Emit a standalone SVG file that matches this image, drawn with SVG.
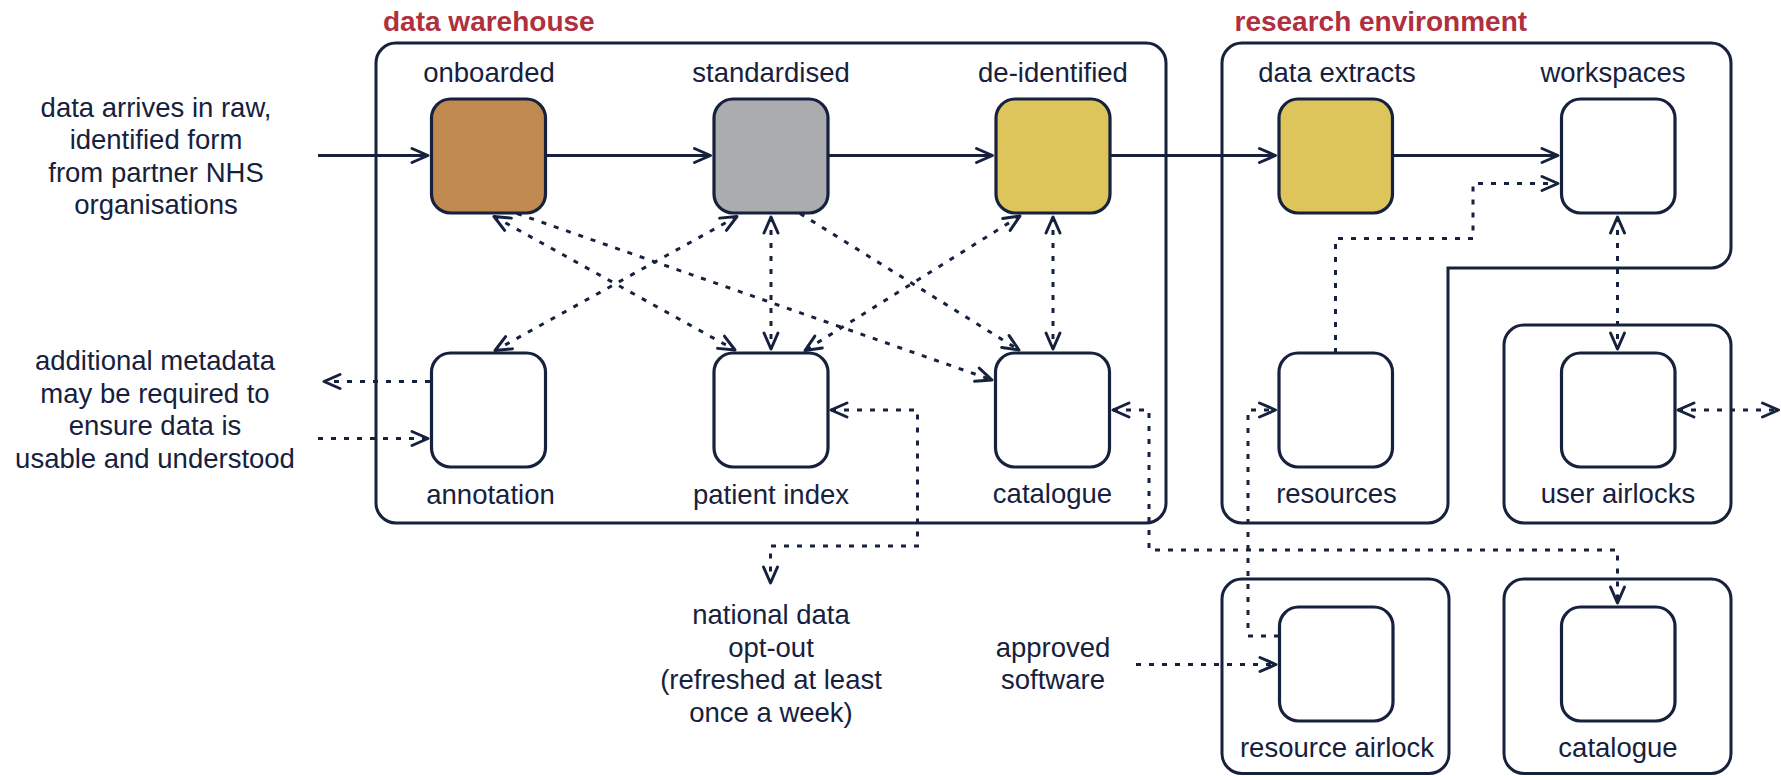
<svg xmlns="http://www.w3.org/2000/svg" width="1781" height="776" viewBox="0 0 1781 776">
  <defs>
    <style>
      .box { fill:#ffffff; stroke:#16213E; stroke-width:3.2; }
      .cont { fill:none; stroke:#16213E; stroke-width:3; }
      .lbl { font-family:"Liberation Sans", Arial, sans-serif; font-size:27.5px; fill:#16213E; text-anchor:middle; }
      .title { font-family:"Liberation Sans", Arial, sans-serif; font-size:28px; font-weight:bold; fill:#B0303E; }
      .solid { fill:none; stroke:#16213E; stroke-width:3; marker-end:url(#arr); }
      .dot { fill:none; stroke:#16213E; stroke-width:3; stroke-dasharray:5 8; }
      .end { marker-end:url(#arr); }
      .both { marker-start:url(#arr); marker-end:url(#arr); }
    </style>
    <marker id="arr" markerUnits="userSpaceOnUse" viewBox="-20 -10 24 20" markerWidth="24" markerHeight="20" refX="0" refY="0" orient="auto-start-reverse">
      <path d="M -16 -7 L 0 0 L -16 7" fill="none" stroke="#16213E" stroke-width="3" stroke-dasharray="none" stroke-linejoin="round" stroke-linecap="round"/>
    </marker>
  </defs>
  <rect x="0" y="0" width="1781" height="776" fill="#ffffff"/>

  <!-- containers -->
  <g id="data-warehouse">
    <rect class="cont" x="376" y="43" width="790" height="480" rx="20"/>
    <text class="title" x="383" y="30.5">data warehouse</text>
  </g>
  <g id="research-environment">
    <path class="cont" d="M1242,43 H1711 A20,20 0 0 1 1731,63 V248 A20,20 0 0 1 1711,268 H1448 V503 A20,20 0 0 1 1428,523 H1242 A20,20 0 0 1 1222,503 V63 A20,20 0 0 1 1242,43 Z"/>
    <text class="title" x="1234.5" y="30.5">research environment</text>
  </g>
  <g id="user-airlocks-container">
    <rect class="cont" x="1504" y="325" width="227" height="198" rx="20"/>
  </g>
  <g id="resource-airlock-container">
    <rect class="cont" x="1222" y="579" width="227" height="194.5" rx="20"/>
  </g>
  <g id="catalogue-re-container">
    <rect class="cont" x="1504" y="579" width="227" height="194.5" rx="20"/>
  </g>

  <!-- nodes -->
  <g id="onboarded">
    <rect class="box" x="431.5" y="99" width="114" height="114" rx="19" style="fill:#C0894F"/>
    <text class="lbl" x="489" y="82">onboarded</text>
  </g>
  <g id="standardised">
    <rect class="box" x="714" y="99" width="114" height="114" rx="19" style="fill:#ABACAD"/>
    <text class="lbl" x="771" y="82">standardised</text>
  </g>
  <g id="de-identified">
    <rect class="box" x="996" y="99" width="114" height="114" rx="19" style="fill:#DEC55B"/>
    <text class="lbl" x="1053" y="82">de-identified</text>
  </g>
  <g id="data-extracts">
    <rect class="box" x="1279" y="99" width="113.5" height="114" rx="19" style="fill:#DEC55B"/>
    <text class="lbl" x="1337" y="82">data extracts</text>
  </g>
  <g id="workspaces">
    <rect class="box" x="1561.5" y="99" width="113.5" height="114" rx="19"/>
    <text class="lbl" x="1613" y="82">workspaces</text>
  </g>
  <g id="annotation">
    <rect class="box" x="431.5" y="353" width="114" height="114" rx="19"/>
    <text class="lbl" x="490.5" y="504">annotation</text>
  </g>
  <g id="patient-index">
    <rect class="box" x="714" y="353" width="114" height="114" rx="19"/>
    <text class="lbl" x="771" y="504">patient index</text>
  </g>
  <g id="catalogue-dw">
    <rect class="box" x="995.5" y="353" width="114" height="114" rx="19"/>
    <text class="lbl" x="1052.5" y="502.5">catalogue</text>
  </g>
  <g id="resources">
    <rect class="box" x="1279" y="353" width="113.5" height="114" rx="19"/>
    <text class="lbl" x="1336.5" y="502.5">resources</text>
  </g>
  <g id="user-airlocks">
    <rect class="box" x="1561.5" y="353" width="113.5" height="114" rx="19"/>
    <text class="lbl" x="1618" y="502.5">user airlocks</text>
  </g>
  <g id="resource-airlock">
    <rect class="box" x="1279.5" y="607" width="113.5" height="114" rx="19"/>
    <text class="lbl" x="1337" y="757">resource airlock</text>
  </g>
  <g id="catalogue-re">
    <rect class="box" x="1561.5" y="607" width="113.5" height="114" rx="19"/>
    <text class="lbl" x="1618" y="757">catalogue</text>
  </g>

  <!-- free text -->
  <g id="text-raw-data">
    <text class="lbl" x="156" y="116.5">data arrives in raw,</text>
    <text class="lbl" x="156" y="149">identified form</text>
    <text class="lbl" x="156" y="181.5">from partner NHS</text>
    <text class="lbl" x="156" y="213.5">organisations</text>
  </g>
  <g id="text-metadata">
    <text class="lbl" x="155" y="370">additional metadata</text>
    <text class="lbl" x="155" y="402.5">may be required to</text>
    <text class="lbl" x="155" y="435">ensure data is</text>
    <text class="lbl" x="155" y="467.5">usable and understood</text>
  </g>
  <g id="text-opt-out">
    <text class="lbl" x="771" y="623.5">national data</text>
    <text class="lbl" x="771" y="656.5">opt-out</text>
    <text class="lbl" x="771" y="689">(refreshed at least</text>
    <text class="lbl" x="771" y="721.5">once a week)</text>
  </g>
  <g id="text-approved">
    <text class="lbl" x="1053" y="656.5">approved</text>
    <text class="lbl" x="1053" y="688.5">software</text>
  </g>

  <!-- connectors -->
  <g id="connectors">
    <line class="solid" x1="318" y1="155.5" x2="428" y2="155.5"/>
    <line class="solid" x1="545.5" y1="155.5" x2="710.5" y2="155.5"/>
    <line class="solid" x1="828" y1="155.5" x2="992.5" y2="155.5"/>
    <line class="solid" x1="1110" y1="155.5" x2="1275.5" y2="155.5"/>
    <line class="solid" x1="1392.5" y1="155.5" x2="1558" y2="155.5"/>

    <line class="dot both" x1="494" y1="216.5" x2="735" y2="350"/>
    <line class="dot end" x1="517" y1="213.5" x2="992" y2="380"/>
    <line class="dot both" x1="737" y1="216.5" x2="495" y2="350.5"/>
    <line class="dot both" x1="771" y1="217" x2="771" y2="349"/>
    <line class="dot end" x1="800" y1="213.5" x2="1019" y2="350"/>
    <line class="dot both" x1="1020" y1="216" x2="805" y2="350.5"/>
    <line class="dot both" x1="1053" y1="217" x2="1053" y2="349"/>

    <line class="dot end" x1="430" y1="381.5" x2="324" y2="381.5"/>
    <line class="dot end" x1="318" y1="438.5" x2="428" y2="438.5"/>

    <path class="dot both" d="M831,410 H917.5 V546 H770.5 V583"/>
    <path class="dot both" d="M1113,410 H1149 V550 H1617.5 V603"/>
    <path class="dot end" d="M1335.5,353 V238.5 H1473 V183.5 H1558"/>
    <line class="dot both" x1="1617.5" y1="217" x2="1617.5" y2="349"/>
    <line class="dot both" x1="1678" y1="410" x2="1778.5" y2="410"/>
    <path class="dot end" d="M1279,636 H1248 V410 H1275.5"/>
    <line class="dot end" x1="1136" y1="664.5" x2="1276" y2="664.5"/>
  </g>
</svg>
